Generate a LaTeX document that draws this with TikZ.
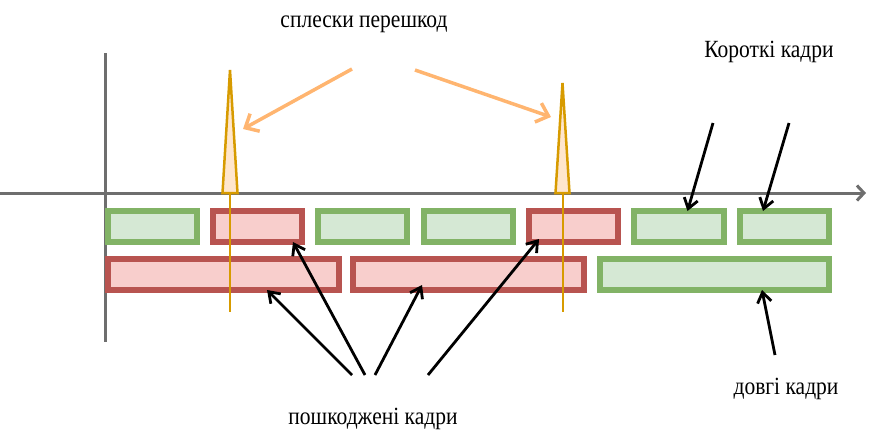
\documentclass[tikz,border=0pt]{standalone}
\usepackage{fontspec}
\setmainfont{Liberation Serif}
\usetikzlibrary{arrows.meta,calc}
\definecolor{gstroke}{HTML}{82B366}
\definecolor{gfill}{HTML}{D5E8D4}
\definecolor{rstroke}{HTML}{B85450}
\definecolor{rfill}{HTML}{F8CECC}
\definecolor{ostroke}{HTML}{D79B00}
\definecolor{ofill}{HTML}{FFE6CC}
\definecolor{oarrow}{HTML}{FFB570}
\definecolor{axisgray}{HTML}{6E6E6E}
\begin{document}
\begin{tikzpicture}[x=1pt,y=1pt,
  frame/.style={draw, line width=6pt, minimum height=31pt, inner sep=0pt, outer sep=0pt, anchor=north west},
  gbox/.style={frame, draw=gstroke, fill=gfill},
  rbox/.style={frame, draw=rstroke, fill=rfill},
  axisline/.style={draw=axisgray, line width=3pt},
  spike/.style={draw=ostroke, fill=ofill, line width=2.5pt, line join=miter},
  spikeline/.style={draw=ostroke, line width=2pt},
  oarr/.style={draw=oarrow, line width=3.5pt, -{Straight Barb[length=11pt,width=20pt]}},
  barr/.style={draw=black, line width=2.8pt, -{Straight Barb[length=10pt,width=14pt]}},
  lbl/.style={font=\fontsize{21.5}{26}\selectfont, yscale=1.15, transform shape, inner sep=0pt}
]
\useasboundingbox (0,0) rectangle (869,-432);

% axes
\draw[axisline, -{Straight Barb[length=7pt,width=15pt]}] (0,-193) -- (866,-193);
\draw[axisline] (105,-53) -- (105,-342);

% top row (outer edges: top 208, bottom 245)
\node[gbox, minimum width=89pt] (t1) at (108,-211) {};
\node[rbox, minimum width=89pt] (t2) at (213,-211) {};
\node[gbox, minimum width=89pt] (t3) at (318,-211) {};
\node[gbox, minimum width=89pt] (t4) at (424,-211) {};
\node[rbox, minimum width=89pt] (t5) at (529,-211) {};
\node[gbox, minimum width=90pt] (t6) at (634,-211) {};
\node[gbox, minimum width=89pt] (t7) at (740,-211) {};

% bottom row (outer edges: top 256, bottom 293)
\node[rbox, minimum width=231pt] (b1) at (108,-259) {};
\node[rbox, minimum width=231pt] (b2) at (353,-259) {};
\node[gbox, minimum width=229pt] (b3) at (600,-259) {};

% spikes
\draw[spikeline] (230,-193) -- (230,-312);
\draw[spike] (222.5,-193) -- (230,-70) -- (237.5,-193) -- cycle;
\draw[spikeline] (562.5,-193) -- (562.5,-312);
\draw[spike] (555.5,-193) -- (562.5,-83) -- (569.5,-193) -- cycle;
\coordinate (s1) at (243,-129);
\coordinate (s2) at (551,-117);

% labels
\node[lbl] (noise) at (364,-24) {сплески перешкод};
\node[lbl] (short) at (769,-52) {Короткі кадри};
\node[lbl] (long) at (786,-389) {довгі кадри};
\node[lbl] (dmg) at (373,-419) {пошкоджені кадри};

% orange arrows
\coordinate (o1) at (352,-69);
\coordinate (o2) at (415,-70);
\draw[oarr] (o1) -- (s1);
\draw[oarr] (o2) -- (s2);

% black arrows to damaged frames
\coordinate (d1) at (352,-375);
\coordinate (d2) at (365,-375);
\coordinate (d3) at (375,-375);
\coordinate (d4) at (428,-375);
\draw[barr] (d1) -- ([xshift=43.5pt]b1.south);
\draw[barr] (d2) -- ([xshift=35.5pt]t2.south);
\draw[barr] (d3) -- ([xshift=-46.5pt,yshift=5pt]b2.south);
\draw[barr] (d4) -- ([xshift=-34.5pt,yshift=3pt]t5.south);

% short frames arrows
\coordinate (k1) at (713,-123);
\coordinate (k2) at (789,-123);
\draw[barr] (k1) -- ([xshift=8.5pt]t6.north);
\draw[barr] (k2) -- ([xshift=-21.5pt]t7.north);

% long frames arrow
\coordinate (l1) at (775,-355);
\draw[barr] (l1) -- ([xshift=47.5pt]b3.south);
\end{tikzpicture}
\end{document}
